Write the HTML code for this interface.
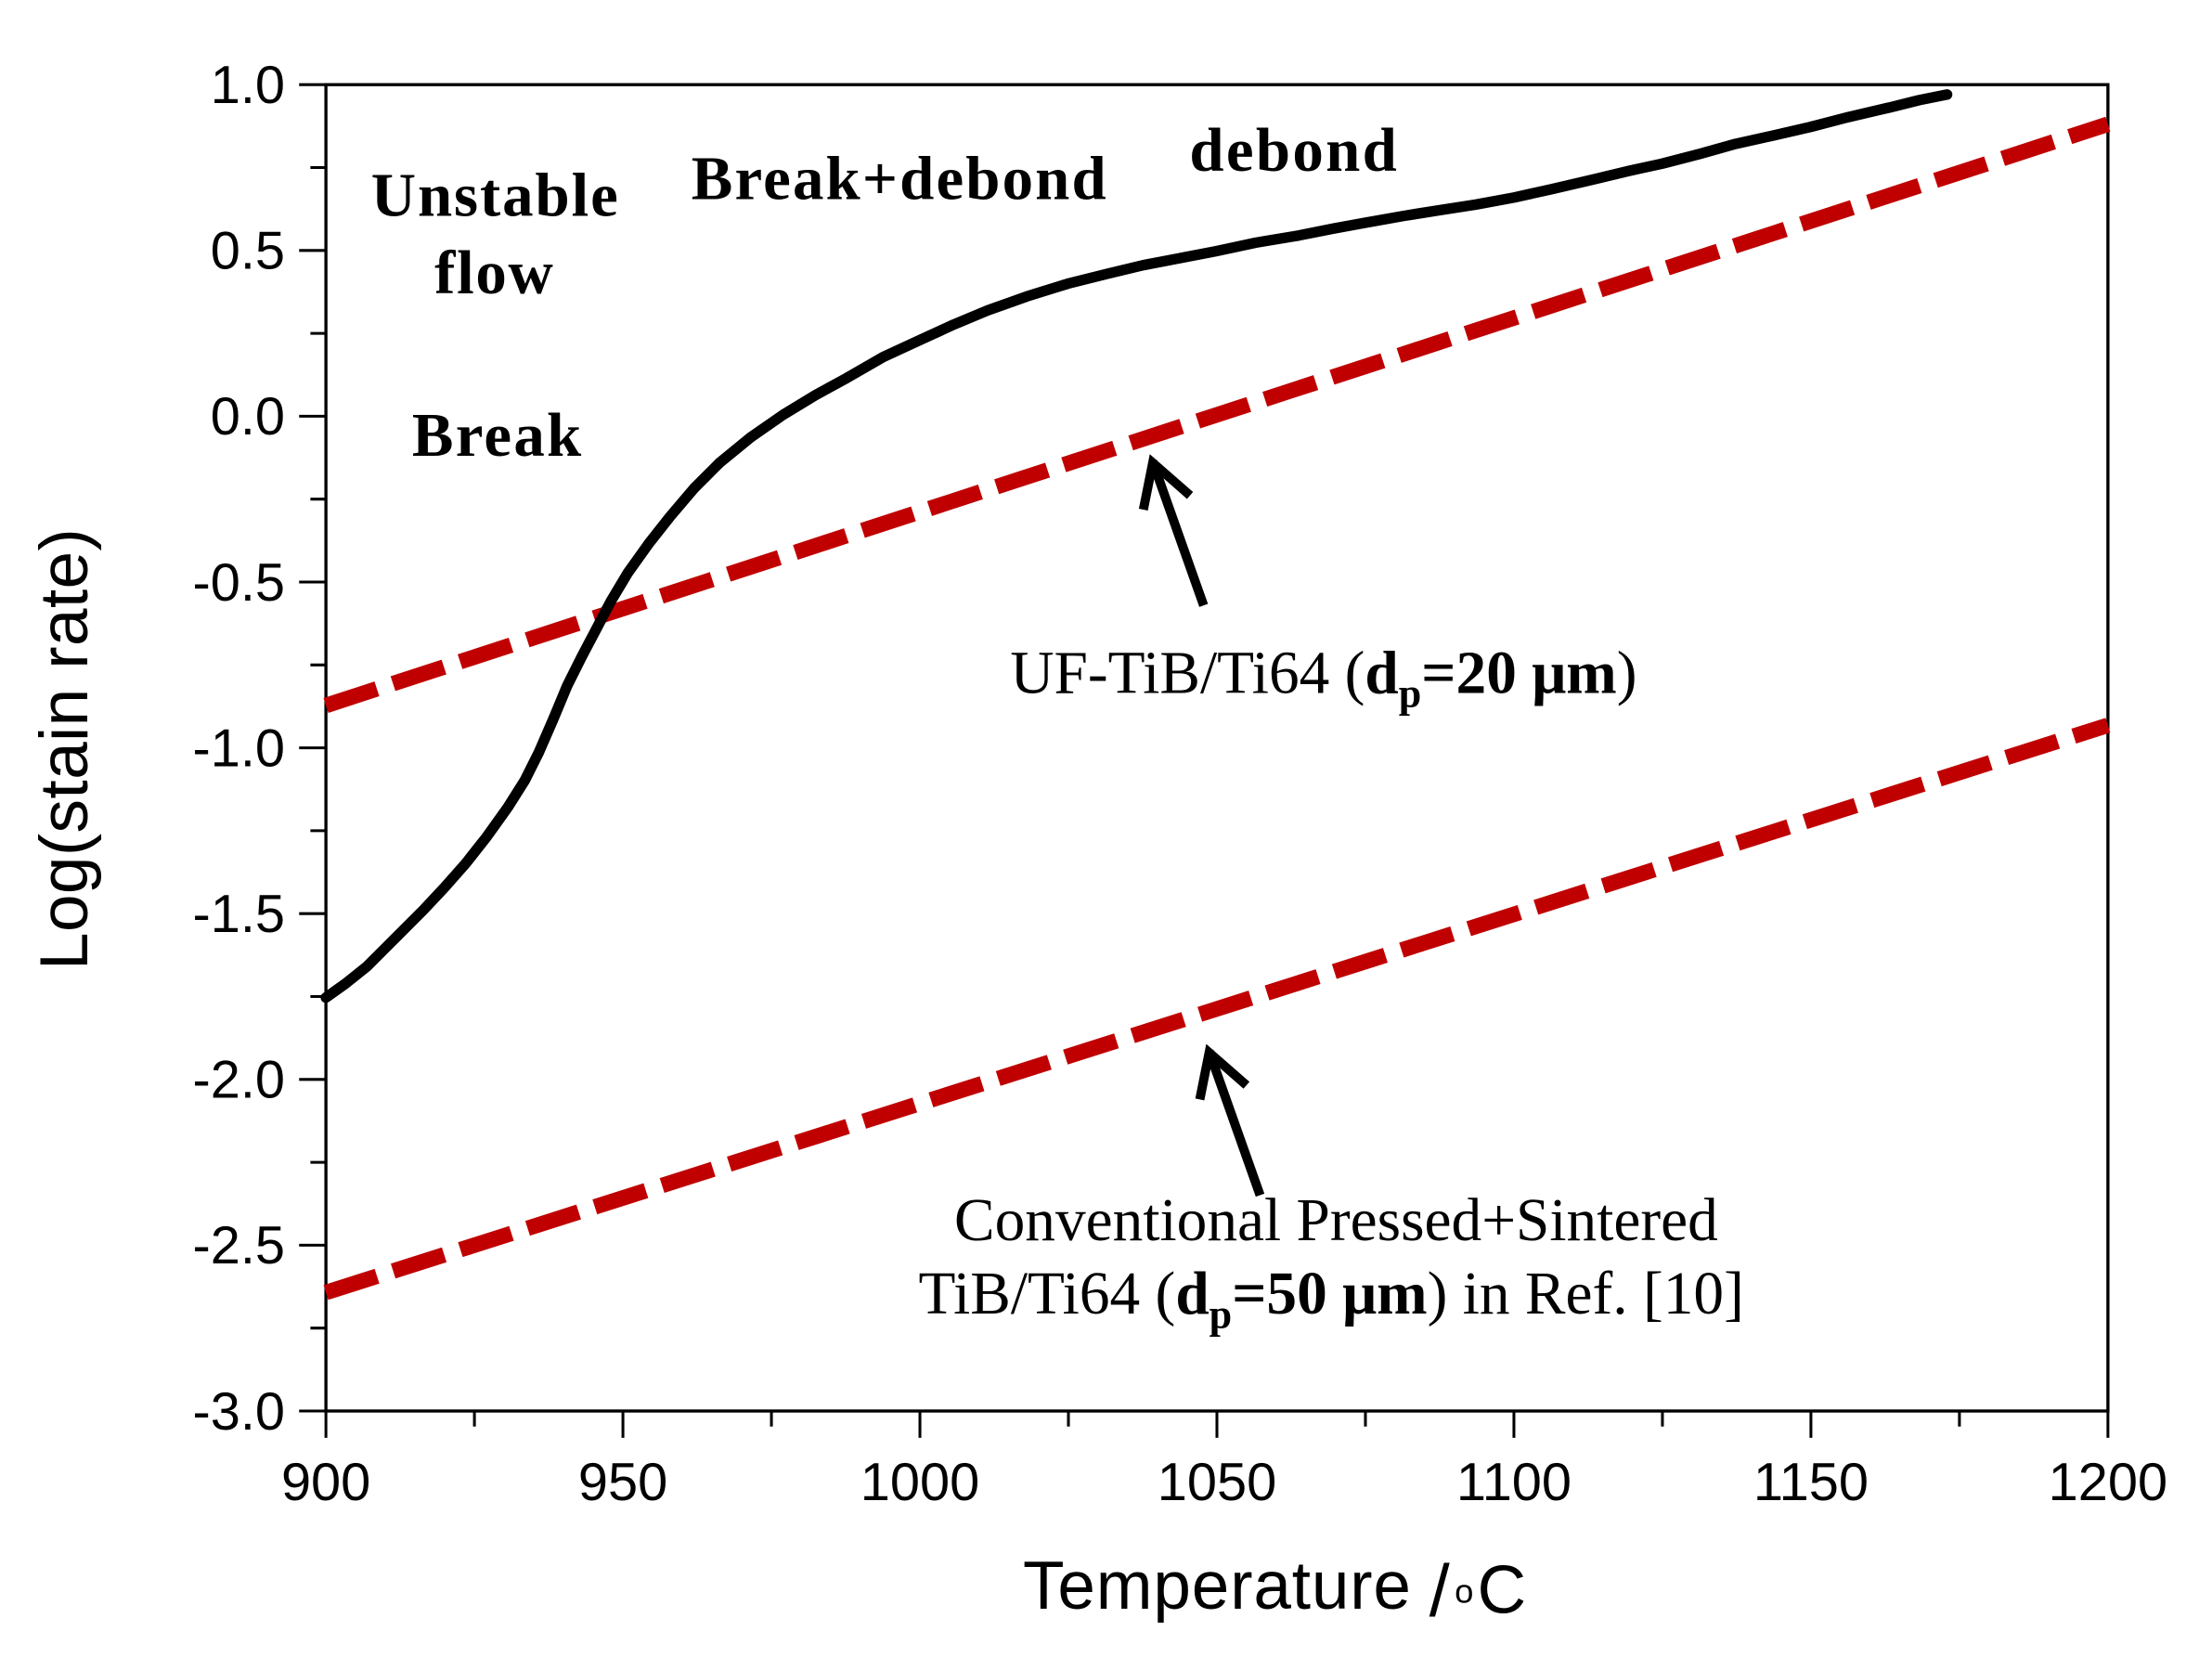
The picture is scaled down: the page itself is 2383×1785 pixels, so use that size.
<!DOCTYPE html>
<html><head><meta charset="utf-8"><style>html,body{margin:0;padding:0;background:#fff}svg{display:block}</style></head>
<body>
<svg width="2383" height="1785" viewBox="0 0 2383 1785" xmlns="http://www.w3.org/2000/svg">
<rect width="2383" height="1785" fill="#fff"/>
<g transform="scale(1.52)">
<rect x="231" y="60" width="1263" height="940" fill="none" stroke="#000" stroke-width="2.2"/>
<g stroke="#000" stroke-width="2">
<line x1="212" y1="60" x2="231" y2="60"/><line x1="212" y1="177.5" x2="231" y2="177.5"/>
<line x1="212" y1="295" x2="231" y2="295"/><line x1="212" y1="412.5" x2="231" y2="412.5"/>
<line x1="212" y1="530" x2="231" y2="530"/><line x1="212" y1="647.5" x2="231" y2="647.5"/>
<line x1="212" y1="765" x2="231" y2="765"/><line x1="212" y1="882.5" x2="231" y2="882.5"/>
<line x1="212" y1="1000" x2="231" y2="1000"/>
<line x1="220" y1="118.75" x2="231" y2="118.75"/><line x1="220" y1="236.25" x2="231" y2="236.25"/>
<line x1="220" y1="353.75" x2="231" y2="353.75"/><line x1="220" y1="471.25" x2="231" y2="471.25"/>
<line x1="220" y1="588.75" x2="231" y2="588.75"/><line x1="220" y1="706.25" x2="231" y2="706.25"/>
<line x1="220" y1="823.75" x2="231" y2="823.75"/><line x1="220" y1="941.25" x2="231" y2="941.25"/>
<line x1="231" y1="1000" x2="231" y2="1019"/><line x1="441.5" y1="1000" x2="441.5" y2="1019"/>
<line x1="652" y1="1000" x2="652" y2="1019"/><line x1="862.5" y1="1000" x2="862.5" y2="1019"/>
<line x1="1073" y1="1000" x2="1073" y2="1019"/><line x1="1283.5" y1="1000" x2="1283.5" y2="1019"/>
<line x1="1494" y1="1000" x2="1494" y2="1019"/>
<line x1="336.25" y1="1000" x2="336.25" y2="1011"/><line x1="546.75" y1="1000" x2="546.75" y2="1011"/>
<line x1="757.25" y1="1000" x2="757.25" y2="1011"/><line x1="967.75" y1="1000" x2="967.75" y2="1011"/>
<line x1="1178.25" y1="1000" x2="1178.25" y2="1011"/><line x1="1388.75" y1="1000" x2="1388.75" y2="1011"/>
</g>
<g font-family="Liberation Sans, Arial, sans-serif" font-size="38" fill="#000" text-anchor="end">
<text x="202" y="73">1.0</text><text x="202" y="190.5">0.5</text><text x="202" y="308">0.0</text>
<text x="202" y="425.5">-0.5</text><text x="202" y="543">-1.0</text><text x="202" y="660.5">-1.5</text>
<text x="202" y="778">-2.0</text><text x="202" y="895.5">-2.5</text><text x="202" y="1013">-3.0</text>
</g>
<g font-family="Liberation Sans, Arial, sans-serif" font-size="38" fill="#000" text-anchor="middle">
<text x="231" y="1063">900</text><text x="441.5" y="1063">950</text><text x="652" y="1063">1000</text>
<text x="862.5" y="1063">1050</text><text x="1073" y="1063">1100</text><text x="1283.5" y="1063">1150</text>
<text x="1494" y="1063">1200</text>
</g>
<text x="0" y="0" transform="translate(62,531) rotate(-90)" font-family="Liberation Sans, Arial, sans-serif" font-size="48" text-anchor="middle" textLength="313">Log(stain rate)</text>
<text x="725" y="1140" font-family="Liberation Sans, Arial, sans-serif" font-size="48" textLength="275">Temperature</text>
<text x="1013" y="1145" font-family="Liberation Sans, Arial, sans-serif" font-size="52">/</text>
<text x="1031" y="1136" font-family="Liberation Sans, Arial, sans-serif" font-size="24">o</text>
<text x="1047" y="1143" font-family="Liberation Sans, Arial, sans-serif" font-size="48">C</text>
<g stroke="#c00000" stroke-width="11" stroke-dasharray="38 12" fill="none">
<line x1="231" y1="500" x2="1494" y2="88"/>
<line x1="231" y1="916" x2="1494" y2="514"/>
</g>
<polyline points="231,707 245,697 260,685 280,665 300,645 315,629 330,612 345,593 360,572 372,553 382,533 392,510 402,486 412,466 422,447 433,426 445,406 460,385 475,366 492,346 510,328 532,310 555,294 578,280 600,268 626,253 652,241 676,230 700,220 728,210 757,201 785,194 810,188 836,183 862,178 890,172 920,167 945,162 967,158 995,153 1020,149 1046,145 1073,140 1100,134 1130,127 1155,121 1178,116 1205,109 1230,102 1257,96 1283,90 1310,83 1340,76 1360,71 1380,67" fill="none" stroke="#000" stroke-width="7.5" stroke-linecap="round" stroke-linejoin="round"/>
<g stroke="#000" stroke-width="6.5" fill="none" stroke-linecap="square">
<line x1="852" y1="426" x2="818" y2="330"/>
<polyline points="811,358 817,328 841,349"/>
<line x1="892" y1="844" x2="858" y2="748"/>
<polyline points="851,776 857,746 881,767"/>
</g>
<g font-family="Liberation Serif, Times New Roman, serif" font-weight="bold" font-size="44" fill="#000">
<text x="263" y="153" textLength="175">Unstable</text>
<text x="308" y="208" textLength="84">flow</text>
<text x="292" y="323" textLength="120">Break</text>
<text x="490" y="141" textLength="294">Break+debond</text>
<text x="843" y="121" textLength="147">debond</text>
</g>
<g font-family="Liberation Serif, Times New Roman, serif" font-size="43" fill="#000">
<text x="716" y="491">UF-TiB/Ti64 (<tspan font-weight="bold">d<tspan font-size="29" dy="10">p</tspan><tspan dy="-10">=20 μm</tspan></tspan>)</text>
<text x="947" y="879" text-anchor="middle">Conventional Pressed+Sintered</text>
<text x="651" y="931">TiB/Ti64 (<tspan font-weight="bold">d<tspan font-size="29" dy="10">p</tspan><tspan dy="-10">=50 μm</tspan></tspan>) in Ref. [10]</text>
</g>
</g>
</svg>
</body></html>
